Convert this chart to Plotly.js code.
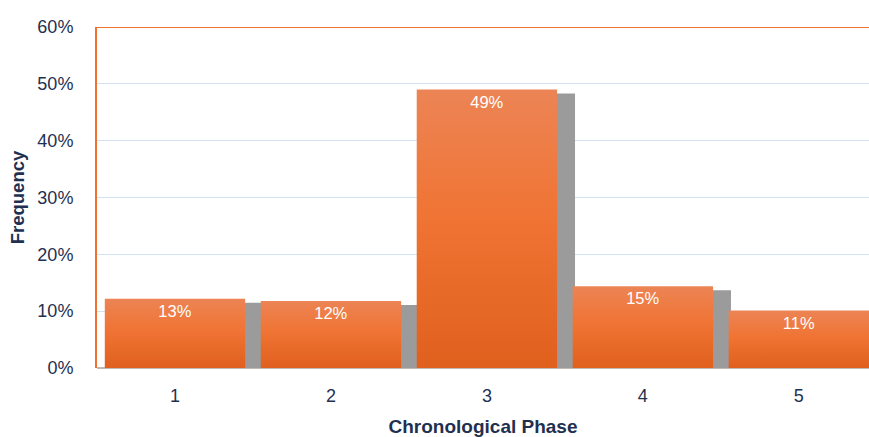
<!DOCTYPE html>
<html>
<head>
<meta charset="utf-8">
<script src="https://cdn.plot.ly/plotly-3.0.1.min.js"></script>
<style>
html,body{margin:0;padding:0;background:#fff;overflow:hidden;}
#chart{width:869px;height:437px;}
</style>
</head>
<body>
<div id="chart"></div>
<script>
// Data
const phases = [1, 2, 3, 4, 5];
const frequency = [0.122, 0.118, 0.490, 0.144, 0.101];
const labels = ["13%", "12%", "49%", "15%", "11%"];
const yTickVals = [0, 0.1, 0.2, 0.3, 0.4, 0.5, 0.6];

const navy = '#1F3050';
const orange = '#EF7232';
const fam = 'Liberation Sans, Arial, sans-serif';

const shadow = {
  type: 'bar',
  x: phases,
  y: frequency.map(v => v - 0.007),
  width: 0.9,
  offset: -0.335,
  marker: {color: '#9B9B9B', line: {width: 0}},
  hoverinfo: 'skip',
  showlegend: false
};

const bars = {
  type: 'bar',
  x: phases,
  y: frequency,
  width: 0.9,
  text: labels,
  textposition: 'inside',
  insidetextanchor: 'end',
  textangle: 0,
  textfont: {color: '#FFFFFF', size: 16.5, family: fam},
  marker: {color: orange, line: {width: 0}},
  showlegend: false
};

const layout = {
  width: 869,
  height: 437,
  margin: {l: 97, r: 0, t: 27, b: 69},
  paper_bgcolor: '#FFFFFF',
  plot_bgcolor: '#FFFFFF',
  barmode: 'overlay',
  font: {family: fam, color: navy},
  xaxis: {
    range: [0.5, 5.45],
    tickvals: phases,
    ticktext: phases.map(String),
    tickfont: {size: 18, color: navy},
    ticks: 'outside',
    ticklen: 11,
    tickcolor: 'rgba(0,0,0,0)',
    showgrid: false,
    zeroline: false,
    showline: false,
    title: {text: 'Chronological Phase', font: {size: 19, color: navy, family: fam, weight: 'bold'}, standoff: 19}
  },
  yaxis: {
    range: [0, 0.6],
    tickvals: yTickVals,
    tickformat: '.0%',
    tickfont: {size: 18, color: navy},
    showgrid: true,
    gridcolor: '#D3E2F3',
    gridwidth: 1,
    zeroline: true,
    zerolinecolor: '#C4B8B4',
    zerolinewidth: 1.5,
    showline: true,
    linecolor: '#F07030',
    linewidth: 2,
    ticks: 'outside',
    ticklen: 18,
    tickcolor: 'rgba(0,0,0,0)',
    title: {text: 'Frequency', font: {size: 18.5, color: navy, family: fam, weight: 'bold'}, standoff: 8}
  },
  shapes: [{
    type: 'line', xref: 'paper', yref: 'y', x0: 0, x1: 1, y0: 0.6, y1: 0.6,
    line: {color: '#F07030', width: 2}
  }]
};

Plotly.newPlot('chart', [shadow, bars], layout, {displayModeBar: false, staticPlot: true}).then(function(gd) {
  const svg = gd.querySelector('.main-svg');
  const ns = 'http://www.w3.org/2000/svg';
  let defs = svg.querySelector('defs');
  if (!defs) { defs = document.createElementNS(ns, 'defs'); svg.insertBefore(defs, svg.firstChild); }
  const grad = document.createElementNS(ns, 'linearGradient');
  grad.setAttribute('id', 'barGrad');
  grad.setAttribute('x1', '0'); grad.setAttribute('y1', '0');
  grad.setAttribute('x2', '0'); grad.setAttribute('y2', '1');
  [['0', '#EC8455'], ['0.45', '#F07434'], ['1', '#E0601E']].forEach(function(s) {
    const st = document.createElementNS(ns, 'stop');
    st.setAttribute('offset', s[0]);
    st.setAttribute('stop-color', s[1]);
    grad.appendChild(st);
  });
  defs.appendChild(grad);
  const traces = gd.querySelectorAll('.barlayer .trace');
  if (traces.length > 1) {
    traces[1].querySelectorAll('.point path').forEach(function(p) {
      p.style.fill = 'url(#barGrad)';
    });
  }
});
</script>
</body>
</html>
